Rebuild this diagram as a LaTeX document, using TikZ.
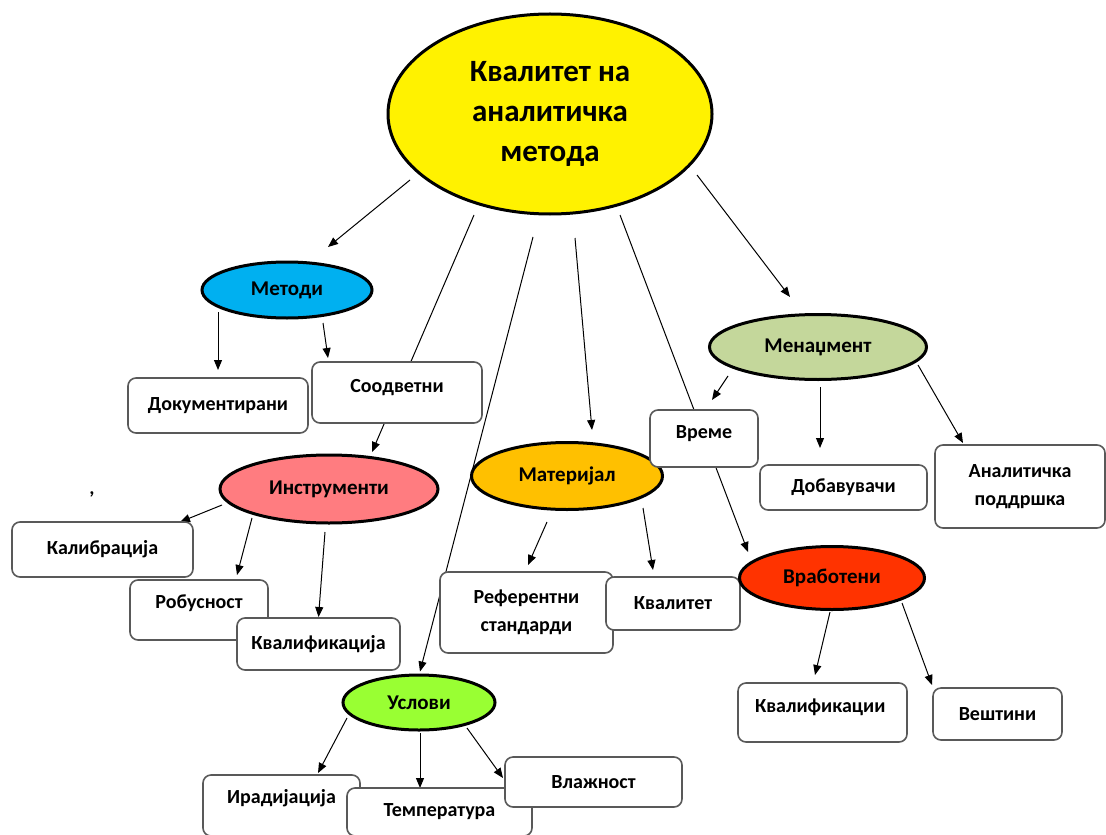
\documentclass[tikz,border=0pt]{standalone}
\usepackage{fontspec}
\setmainfont{Carlito}
\usetikzlibrary{shapes.geometric,arrows.meta,calc}

\definecolor{metcol}{HTML}{00B0F0}
\definecolor{inscol}{HTML}{FF7C80}
\definecolor{matcol}{HTML}{FFC000}
\definecolor{mencol}{HTML}{C4D79B}
\definecolor{vrbcol}{HTML}{FF3300}
\definecolor{uslcol}{HTML}{99FF33}

\pgfdeclarelayer{bg}
\pgfsetlayers{bg,main}

\tikzset{
	topic/.style={ellipse,draw=black,line width=1.5pt,inner sep=0pt,
		font=\bfseries\fontsize{10.5}{12}\selectfont},
	leaf/.style={draw=black!65,line width=0.8pt,rounded corners=4pt,fill=white,
		inner sep=0pt,align=center,font=\bfseries\fontsize{10}{14}\selectfont},
	lift/.style={text height=7pt,text depth=#1},
	arr/.style={-{Triangle[length=5pt,width=4pt]},line width=0.5pt}
}

\begin{document}
\begin{tikzpicture}[x=0.5pt,y=-0.5pt]
	\useasboundingbox (0,0) rectangle (1106,834);

	% central topic
	\node[topic,fill=yellow,minimum width=162pt,minimum height=100pt,align=center,
		font=\bfseries\fontsize{15.5}{20}\selectfont] (root) at (550,114)
		{Квалитет на\\аналитичка\\метода};

	% Методи
	\node[topic,fill=metcol,minimum width=85pt,minimum height=28pt] (metodi) at (287,290) {Методи};
	\node[leaf,minimum width=90pt,minimum height=27.5pt] (doc) at (218,405.5) {Документирани};
	\node[leaf,lift=7pt,minimum width=85pt,minimum height=30.5pt] (sood) at (397,392.5) {Соодветни};

	% Инструменти
	\node[topic,fill=inscol,minimum width=109pt,minimum height=34pt] (instr) at (329,489) {Инструменти};
	\node[leaf,minimum width=90.5pt,minimum height=27.5pt] (kalib) at (102.5,549.5) {Калибрација};
	\node[leaf,lift=9pt,minimum width=69pt,minimum height=30pt] (robus) at (199,610) {Робусност};
	\node[leaf,minimum width=81.5pt,minimum height=26pt] (kvalif) at (318.5,644) {Квалификација};
	\node[font=\bfseries\fontsize{10}{12}\selectfont] (zapirka) at (92,494) {,};

	% Услови
	\node[topic,fill=uslcol,minimum width=76pt,minimum height=27.5pt] (uslovi) at (419,702.5) {Услови};
	\node[leaf,lift=9pt,minimum width=78.5pt,minimum height=30.5pt] (irad) at (281.5,805.5) {Ирадијација};
	\node[leaf,minimum width=92.5pt,minimum height=24pt] (temp) at (439.5,812) {Температура};
	\node[leaf,minimum width=88.5pt,minimum height=25pt] (vlaz) at (593.5,782) {Влажност};

	% Материјал
	\node[topic,fill=matcol,minimum width=95.5pt,minimum height=33.5pt] (mater) at (567,476) {Материјал};
	\node[leaf,minimum width=86.5pt,minimum height=40.5pt] (ref) at (526.5,612.5) {Референтни\\стандарди};
	\node[leaf,minimum width=67pt,minimum height=26.5pt] (kvalitet) at (673,603.5) {Квалитет};

	% Менаџмент
	\node[topic,fill=mencol,minimum width=108.5pt,minimum height=32.5pt] (menadz) at (818,347) {Менаџмент};
	\node[leaf,lift=7pt,minimum width=54pt,minimum height=28.5pt] (vreme) at (704,438.5) {Време};
	\node[leaf,minimum width=83.5pt,minimum height=22.5pt] (dobav) at (843.5,487.5) {Добавувачи};
	\node[leaf,minimum width=85pt,minimum height=41.5pt] (anpod) at (1020,486.5) {Аналитичка\\поддршка};

	% Вработени
	\node[topic,fill=vrbcol,minimum width=92.5pt,minimum height=31.5pt] (vrab) at (832,578) {Вработени};
	\node[leaf,lift=7pt,inner xsep=8.5pt,text width=67.5pt,align=left,
		minimum width=84.5pt,minimum height=29.5pt] (kvalifik) at (822.5,712.5) {Квалификации};
	\node[leaf,minimum width=64.5pt,minimum height=26pt] (vestini) at (997.5,714) {Вештини};

	% connectors, kept behind the boxes
	\begin{pgfonlayer}{bg}
		\draw[arr] ($(root)+(-140,66)$) -- ($(metodi)+(41,-43)$);
		\draw[arr] ($(root)+(-76,101)$) -- ($(instr)+(43,-37)$);
		\draw[arr] ($(root)+(-17,123)$) -- ($(uslovi)+(1,-31)$);
		\draw[arr] ($(root)+(25,124)$) -- ($(mater)+(25,-46)$);
		\draw[arr] ($(root)+(70,101)$) -- ($(vrab)+(-84,-26)$);
		\draw[arr] ($(root)+(147,61)$) -- ($(menadz)+(-28,-50)$);

		\draw[arr] ($(metodi)+(-69,22)$) -- ($(doc)+(0,-35.5)$);
		\draw[arr] ($(metodi)+(36,33)$) -- ($(sood)+(-69,-34.5)$);

		\draw[arr] ($(instr)+(-107,16)$) -- ($(kalib)+(77.5,-27.5)$);
		\draw[arr] ($(instr)+(-77,29)$) -- ($(robus)+(38,-35)$);
		\draw[arr] ($(instr)+(-4,43)$) -- ($(kvalif)+(0,-27)$);

		\draw[arr] ($(uslovi)+(-72,15.5)$) -- ($(irad)+(36.5,-32.5)$);
		\draw[arr] ($(uslovi)+(1,30.5)$) -- ($(temp)+(-19.5,-24)$);
		\draw[arr] ($(uslovi)+(48,25.5)$) -- ($(vlaz)+(-90.5,-4)$);

		\draw[arr] ($(mater)+(-20,46)$) -- ($(ref)+(1.5,-47.5)$);
		\draw[arr] ($(mater)+(76,32)$) -- ($(kvalitet)+(-20,-33.5)$);

		\draw[arr] ($(menadz)+(-90,29)$) -- ($(vreme)+(8,-38.5)$);
		\draw[arr] ($(menadz)+(2,40)$) -- ($(dobav)+(-23.5,-39.5)$);
		\draw[arr] ($(menadz)+(100,18)$) -- ($(anpod)+(-57,-43.5)$);

		\draw[arr] ($(vrab)+(-2,34)$) -- ($(kvalifik)+(-7.5,-37.5)$);
		\draw[arr] ($(vrab)+(70,25)$) -- ($(vestini)+(-65.5,-29)$);
	\end{pgfonlayer}
\end{tikzpicture}
\end{document}
